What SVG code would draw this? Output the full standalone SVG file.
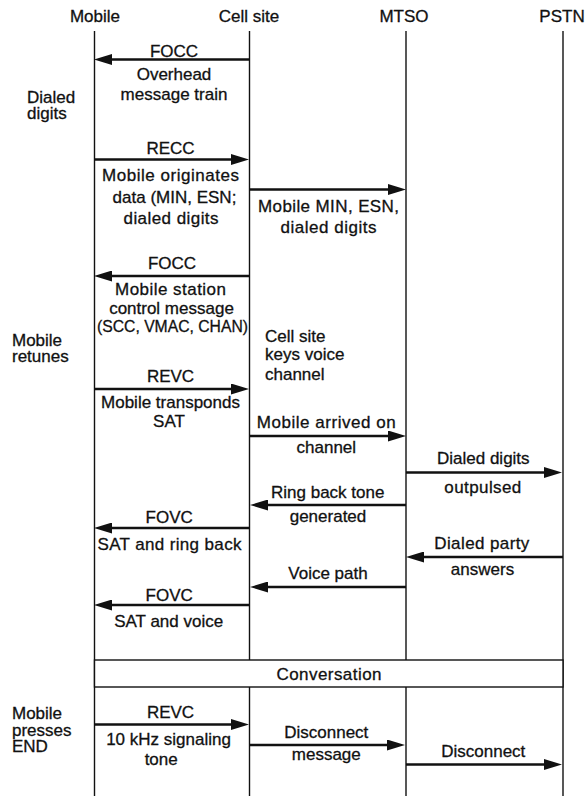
<svg xmlns="http://www.w3.org/2000/svg" width="585" height="796" viewBox="0 0 585 796">
  <style>
    text { font-family: "Liberation Sans", Arial, sans-serif; font-size: 17px; fill: #111; stroke: #111; stroke-width: 0.3; }
    .c { text-anchor: middle; }
    .life { stroke: #111; stroke-width: 1.4; fill: none; }
    .msg { stroke: #111; stroke-width: 2.6; fill: none; marker-end: url(#head); }
    .box { stroke: #111; stroke-width: 1.4; fill: #fff; }
  </style>
  <defs>
    <marker id="head" markerUnits="userSpaceOnUse" viewBox="0 0 18 11" markerWidth="18" markerHeight="11" refX="6" refY="5.5" orient="auto">
      <path d="M0,0 L18,5.5 L0,11 Z" fill="#111"/>
    </marker>
  </defs>

  <rect width="585" height="796" fill="#fff"/>

  <!-- Lifelines with their headings -->
  <g id="mobile">
    <text class="c" x="95" y="22">Mobile</text>
    <line class="life" x1="94.5" y1="31" x2="94.5" y2="796"/>
  </g>
  <g id="cell-site">
    <text class="c" x="249" y="22">Cell site</text>
    <line class="life" x1="249.5" y1="31" x2="249.5" y2="660"/>
    <line class="life" x1="249.5" y1="687" x2="249.5" y2="796"/>
  </g>
  <g id="mtso">
    <text class="c" x="404" y="22">MTSO</text>
    <line class="life" x1="406" y1="31" x2="406" y2="660"/>
    <line class="life" x1="406" y1="687" x2="406" y2="796"/>
  </g>
  <g id="pstn">
    <text class="c" x="562" y="22">PSTN</text>
    <line class="life" x1="563" y1="31" x2="563" y2="796"/>
  </g>

  <!-- Conversation span across all parties -->
  <g id="conversation">
    <rect class="box" x="94.5" y="660" width="468.5" height="27"/>
    <text class="c" x="329" y="679.5" textLength="105">Conversation</text>
  </g>

  <!-- Events at the mobile and the cell site (tightly leaded blocks) -->
  <g id="annotations">
    <text x="27" y="103">Dialed<tspan x="27" y="119">digits</tspan></text>
    <text x="12" y="345.5">Mobile<tspan x="12" y="362">retunes</tspan></text>
    <text x="12" y="719">Mobile<tspan x="12" y="735.5">presses</tspan><tspan x="12" y="752">END</tspan></text>
    <text x="265" y="341.5">Cell site<tspan x="265" y="360">keys voice</tspan><tspan x="265" y="380">channel</tspan></text>
  </g>

  <!-- Messages: shafts end 12px short of the target, the head covers the rest -->
  <g id="connectors">
    <line class="msg" x1="249" y1="59.5" x2="106" y2="59.5"/>
    <line class="msg" x1="94" y1="159.5" x2="237" y2="159.5"/>
    <line class="msg" x1="249" y1="189.5" x2="394" y2="189.5"/>
    <line class="msg" x1="249" y1="276" x2="106" y2="276"/>
    <line class="msg" x1="94" y1="389" x2="237" y2="389"/>
    <line class="msg" x1="249" y1="436" x2="394" y2="436"/>
    <line class="msg" x1="406" y1="472.5" x2="550" y2="472.5"/>
    <line class="msg" x1="406" y1="505" x2="262" y2="505"/>
    <line class="msg" x1="249" y1="528" x2="106" y2="528"/>
    <line class="msg" x1="563" y1="557" x2="418" y2="557"/>
    <line class="msg" x1="406" y1="587" x2="262" y2="587"/>
    <line class="msg" x1="249" y1="605" x2="106" y2="605"/>
    <line class="msg" x1="94" y1="724.5" x2="237" y2="724.5"/>
    <line class="msg" x1="249" y1="745" x2="393" y2="745"/>
    <line class="msg" x1="406" y1="764.5" x2="550" y2="764.5"/>
  </g>

  <g id="labels">
    <text class="c" x="174" y="57">FOCC</text>
    <text class="c" x="174" y="79.5">Overhead</text>
    <text class="c" x="174" y="100">message train</text>

    <text class="c" x="170.5" y="153.5">RECC</text>
    <text class="c" x="170.5" y="181" textLength="137">Mobile originates</text>
    <text class="c" x="174.5" y="202.5">data (MIN, ESN;</text>
    <text class="c" x="171" y="224" textLength="95">dialed digits</text>

    <text class="c" x="328.5" y="211.5" textLength="141">Mobile MIN, ESN,</text>
    <text class="c" x="328.5" y="233.3" textLength="96">dialed digits</text>

    <text class="c" x="172" y="268.5">FOCC</text>
    <text class="c" x="170.5" y="295" textLength="111">Mobile station</text>
    <text class="c" x="171.5" y="313.5">control message</text>
    <text class="c" x="172.5" y="332" textLength="151" lengthAdjust="spacingAndGlyphs">(SCC, VMAC, CHAN)</text>

    <text class="c" x="170.5" y="381.7">REVC</text>
    <text class="c" x="170.5" y="408.3">Mobile transponds</text>
    <text class="c" x="169" y="427.3">SAT</text>

    <text class="c" x="326.3" y="428.3" textLength="139">Mobile arrived on</text>
    <text class="c" x="326.3" y="452.7">channel</text>

    <text class="c" x="483.3" y="464.3">Dialed digits</text>
    <text class="c" x="482.8" y="492.7" textLength="77">outpulsed</text>

    <text class="c" x="327.7" y="498.3">Ring back tone</text>
    <text class="c" x="328" y="521.7">generated</text>

    <text class="c" x="169.2" y="523.3">FOVC</text>
    <text class="c" x="169.5" y="550" textLength="144">SAT and ring back</text>

    <text class="c" x="481.8" y="549" textLength="95">Dialed party</text>
    <text class="c" x="482.5" y="575">answers</text>

    <text class="c" x="328" y="579.3">Voice path</text>

    <text class="c" x="169.2" y="600.7">FOVC</text>
    <text class="c" x="168.7" y="626.7">SAT and voice</text>

    <text class="c" x="170.5" y="717.7">REVC</text>
    <text class="c" x="168.5" y="745">10 kHz signaling</text>
    <text class="c" x="161.2" y="765">tone</text>

    <text class="c" x="326.3" y="738.3">Disconnect</text>
    <text class="c" x="326.3" y="760">message</text>

    <text class="c" x="483.3" y="757.3">Disconnect</text>
  </g>
</svg>
